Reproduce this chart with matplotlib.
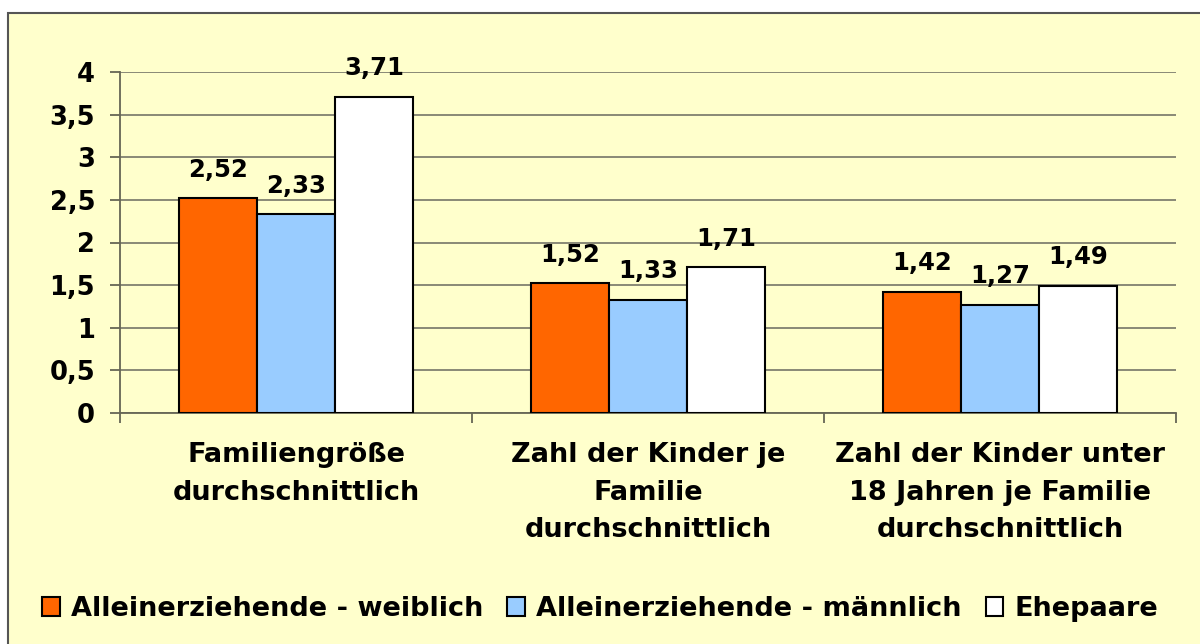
import matplotlib
matplotlib.use("Agg")
import matplotlib.pyplot as plt
import matplotlib.patches as mpatches
import numpy as np

plt.rcParams['font.family'] = ['DejaVu Sans']

categories = ["Familiengröße\ndurchschnittlich",
              "Zahl der Kinder je\nFamilie\ndurchschnittlich",
              "Zahl der Kinder unter\n18 Jahren je Familie\ndurchschnittlich"]
series_names = ["Alleinerziehende - weiblich", "Alleinerziehende - männlich", "Ehepaare"]
weiblich = [2.52, 1.52, 1.42]
maennlich = [2.33, 1.33, 1.27]
ehepaare = [3.71, 1.71, 1.49]
y_ticks = [0, 0.5, 1, 1.5, 2, 2.5, 3, 3.5, 4]
y_tick_labels = ["0", "0,5", "1", "1,5", "2", "2,5", "3", "3,5", "4"]

colors = ["#FF6600", "#99CCFF", "#FFFFFF"]
bg = "#FFFFCC"
FS = 19.5
FS_TICK = 18.5
FS_NUM = 17.5

fig = plt.figure(figsize=(12, 6.44), dpi=100)
fig.patch.set_facecolor("white")
W, H = 1200, 644
panel = mpatches.Rectangle((8 / W, -0.05), 1.1, 1 - 13 / H + 0.05, transform=fig.transFigure,
                           facecolor=bg, edgecolor="#555555", linewidth=1.5, zorder=-10)
fig.patches.append(panel)

ax = fig.add_axes([120 / W, (H - 413) / H, (1176 - 120) / W, (413 - 72) / H])
ax.set_facecolor("none")
ax.set_zorder(1)

x = np.arange(len(categories))
w = 0.2222
series = [weiblich, maennlich, ehepaare]
for i, (vals, c, name) in enumerate(zip(series, colors, series_names)):
    bars = ax.bar(x + (i - 1) * w, vals, width=w, color=c, edgecolor="black",
                  linewidth=1.5, label=name, zorder=3)
    for b, v in zip(bars, vals):
        ax.annotate(f"{v:.2f}".replace(".", ","),
                    (b.get_x() + b.get_width() / 2, v),
                    xytext=(0, 12), textcoords="offset points",
                    ha="center", va="bottom", fontsize=FS_NUM, fontweight="bold")

ax.set_ylim(0, 4)
ax.set_xlim(-0.5, 2.5)
ax.set_yticks(y_ticks)
ax.set_yticklabels(y_tick_labels, fontsize=FS_TICK, fontweight="bold")
ax.yaxis.grid(True, color="#808070", linewidth=1.3, zorder=1)
ax.set_axisbelow(True)

ax.set_xticks(x)
ax.set_xticklabels(categories, fontsize=FS, fontweight="bold", linespacing=1.58)
ax.tick_params(axis="x", which="major", length=0, pad=21)
ax.set_xticks([-0.5, 0.5, 1.5, 2.5], minor=True)
ax.tick_params(axis="x", which="minor", length=7, width=1.3, color="#666655", direction="out")
ax.tick_params(axis="y", length=7, width=1.3, color="#666655", direction="out", pad=11)

for s in ["top", "right"]:
    ax.spines[s].set_visible(False)
for s in ["left", "bottom"]:
    ax.spines[s].set_color("#666655")
    ax.spines[s].set_linewidth(1.3)

handles = [mpatches.Patch(facecolor=c, edgecolor="black", linewidth=1.5) for c in colors]
fig.legend(handles, series_names, loc="center", bbox_to_anchor=(0.5, (H - 609) / H),
           ncol=3, frameon=False, prop={"size": FS, "weight": "bold"},
           handlelength=0.65, handleheight=0.65, handletextpad=0.4, columnspacing=0.9)

fig.savefig("out.png", dpi=100, facecolor="white")
